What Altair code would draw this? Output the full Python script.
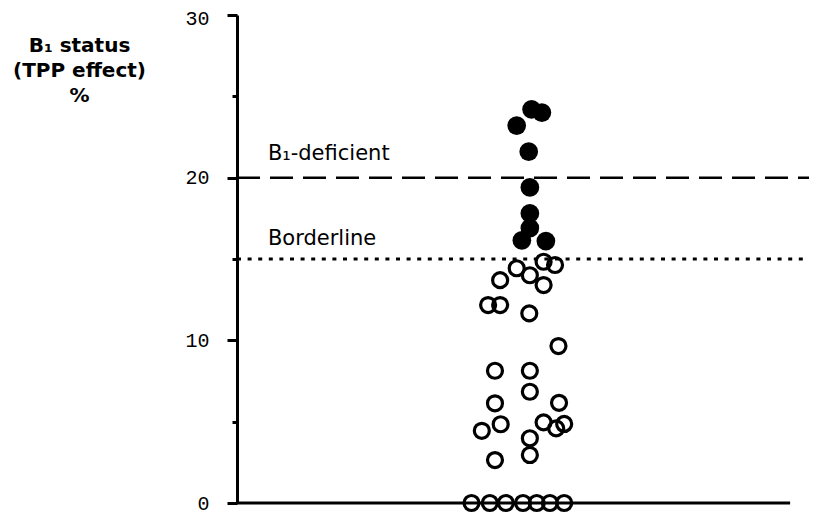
import altair as alt
import pandas as pd

# Filled circles (TPP effect above the borderline)
filled_x = [51.5, 53.3, 48.9, 51.0, 51.2, 51.2, 51.2, 49.8, 54.0]
filled_y = [24.2, 24.0, 23.2, 21.6, 19.4, 17.8, 16.9, 16.15, 16.1]

# Open circles (TPP effect below the borderline)
open_x = [53.6, 55.6, 48.9, 51.2, 46.0, 53.6, 43.9, 46.0, 51.1, 56.2,
          45.1, 51.2, 51.2, 45.1, 56.3, 53.6, 46.1, 57.2, 55.8, 42.8,
          51.2, 51.2, 45.1,
          41.0, 44.2, 47.0, 50.0, 52.4, 54.7, 57.2]
open_y = [14.83, 14.63, 14.43, 14.0, 13.7, 13.4, 12.17, 12.17, 11.66, 9.65,
          8.13, 8.13, 6.84, 6.13, 6.16, 4.96, 4.84, 4.86, 4.59, 4.44,
          3.98, 2.95, 2.64,
          0, 0, 0, 0, 0, 0, 0]

deficient_level = [20]
borderline_level = [15]
annot_labels = ["B\u2081-deficient", "Borderline"]
annot_x = [5.4, 5.4]
annot_y = [21.1, 15.85]
y_ticks = [0, 5, 10, 15, 20, 25, 30]
baseline_extent = [0, 96.7]

filled_df = pd.DataFrame({"x": filled_x, "y": filled_y})
open_df = pd.DataFrame({"x": open_x, "y": open_y})
annot_df = pd.DataFrame({"x": annot_x, "y": annot_y, "label": annot_labels})
def_df = pd.DataFrame({"y": deficient_level, "x": [0], "x2": [100]})
bord_df = pd.DataFrame({"y": borderline_level, "x": [0], "x2": [100]})
base_df = pd.DataFrame({"y": [0], "x": [baseline_extent[0]], "x2": [baseline_extent[1]]})

xs = alt.Scale(domain=[0, 100], nice=False, zero=False)
ys = alt.Scale(domain=[0, 30], nice=False, zero=True)

yaxis = alt.Axis(
    values=y_ticks,
    title=["B\u2081 status", "(TPP effect)", "%"],
    titleAngle=0, titleAlign="center", titleBaseline="top",
    titleX=-158, titleY=20, titleFont="DejaVu Sans", titleFontWeight="bold",
    titleFontSize=20, titleLineHeight=25, titleColor="black",
    labelFont="Liberation Mono", labelFontSize=20, labelColor="black",
    labelPadding=18, labelFlush=False, labelOverlap=False,
    labelOffset={"condition": {"test": "datum.value === 30", "value": 3}, "value": 0},
    labelExpr="datum.value % 10 === 0 ? datum.label : ''",
    tickSize={"condition": {"test": "datum.value % 10 === 0", "value": 10}, "value": 5},
    tickWidth=3, tickColor="black",
    domainColor="black", domainWidth=3, grid=False,
)

def Y():
    return alt.Y("y:Q", scale=ys, axis=yaxis)

def X():
    return alt.X("x:Q", scale=xs, axis=None)

open_pts = alt.Chart(open_df).mark_point(
    shape="circle", filled=False, size=225, strokeWidth=3.2, color="black", opacity=1
).encode(x=X(), y=Y())

filled_pts = alt.Chart(filled_df).mark_circle(size=350, color="black", opacity=1).encode(
    x=X(), y=Y()
)

dashed = alt.Chart(def_df).mark_rule(color="black", strokeWidth=2.5, strokeDash=[23, 10]).encode(
    x=X(), x2="x2:Q", y=Y()
)
dotted = alt.Chart(bord_df).mark_rule(color="black", strokeWidth=3, strokeDash=[4, 6.6]).encode(
    x=X(), x2="x2:Q", y=Y()
)
baseline = alt.Chart(base_df).mark_rule(color="black", strokeWidth=3).encode(
    x=X(), x2="x2:Q", y=Y()
)

annots = alt.Chart(annot_df).mark_text(
    align="left", baseline="alphabetic", font="DejaVu Sans", fontSize=21, color="black"
).encode(x=X(), y=Y(), text="label:N")

chart = alt.layer(dashed, dotted, baseline, annots, open_pts, filled_pts).properties(
    width=572, height=488,
    padding={"left": 229, "top": 7, "right": 0, "bottom": 13},
    autosize=alt.AutoSizeParams(type="none"),
    background="white",
).configure_view(stroke=None)

chart.save("out.html", embed_options={"renderer": "svg", "actions": False})
